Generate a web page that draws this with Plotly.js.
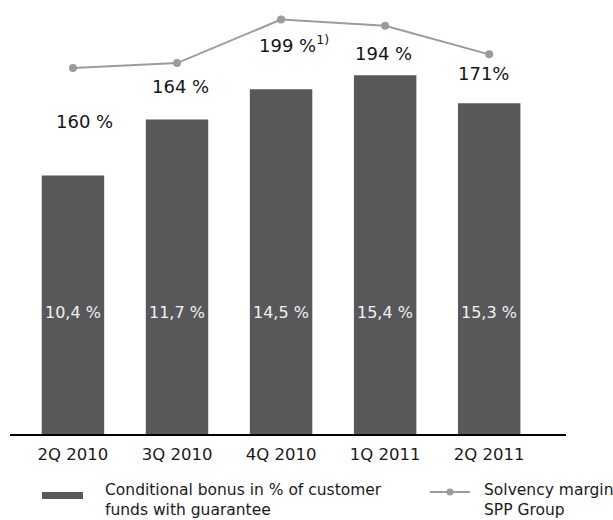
<!DOCTYPE html>
<html>
<head>
<meta charset="utf-8">
<script src="https://cdn.plot.ly/plotly-3.0.1.min.js"></script>
<style>
  html, body { margin: 0; padding: 0; background: #fff; }
  #chart { width: 613px; height: 520px; }
</style>
</head>
<body>
<div id="chart"></div>
<script>
// ---- data ----
const quarters = ['2Q 2010', '3Q 2010', '4Q 2010', '1Q 2011', '2Q 2011'];
// Conditional bonus in % of customer funds with guarantee (printed labels)
const bonusPct = [10.4, 11.7, 14.5, 15.4, 15.3];
// The reference bars are not drawn to scale; heights as drawn, read on the 1Q 2011 bar's scale
const bonusBarDrawn = [11.1, 13.5, 14.8, 15.4, 14.2];
// Solvency margin SPP Group, %
const solvency = [160, 164, 199, 194, 171];
const solvencySep = [' ', ' ', ' ', ' ', ''];
const solvencyNote = ['', '', '1)', '', ''];
const legendBar = 'Conditional bonus in % of customer<br>funds with guarantee';
const legendLine = 'Solvency margin<br>SPP Group';

// ---- styling / layout ----
const FONT = 'DejaVu Sans, Verdana, sans-serif';
const BAR_COLOR = '#58585a';
const LINE_COLOR = '#9b9b9b';
const W = 613, H = 520, L = 10, R = 47, T = 10, B = 86;
const PW = W - L - R, PH = H - T - B;
const px2x = p => (p - L) / PW;          // pixel -> paper x
const px2y = p => (H - B - p) / PH;      // pixel -> paper y

// label offsets (pixels) relative to each line point
const lineLabelDx = [12, 3.5, 12.5, -2, -5.5];
const lineLabelDy = [-53, -23, -25, -28, -19];

const bars = {
  type: 'bar',
  x: quarters,
  y: bonusBarDrawn,
  width: 0.6,
  marker: { color: BAR_COLOR, line: { width: 0 } },
  hoverinfo: 'skip',
  showlegend: false
};

const line = {
  type: 'scatter',
  mode: 'lines+markers',
  x: quarters,
  y: solvency,
  yaxis: 'y2',
  line: { color: LINE_COLOR, width: 2 },
  marker: { color: LINE_COLOR, size: 8 },
  hoverinfo: 'skip',
  showlegend: false
};

const annotations = [];
quarters.forEach((q, i) => {
  annotations.push({
    xref: 'x', yref: 'paper', x: q, y: px2y(312.5),
    text: bonusPct[i].toFixed(1).replace('.', ',') + ' %',
    showarrow: false, xanchor: 'center', yanchor: 'middle',
    font: { family: FONT, size: 16, color: '#f2f2f2' }
  });
  annotations.push({
    xref: 'x', yref: 'y2', x: q, y: solvency[i],
    text: solvency[i] + solvencySep[i] + '%' + (solvencyNote[i] ? '<sup>' + solvencyNote[i] + '</sup>' : ''),
    showarrow: false, xanchor: 'center', yanchor: 'middle',
    xshift: lineLabelDx[i], yshift: lineLabelDy[i],
    font: { family: FONT, size: 18, color: '#151515' }
  });
});
// legend texts
annotations.push({
  xref: 'paper', yref: 'paper', x: px2x(103), y: px2y(479),
  text: legendBar, showarrow: false, xanchor: 'left', yanchor: 'top', align: 'left',
  font: { family: FONT, size: 15.5, color: '#1a1a1a' }
});
annotations.push({
  xref: 'paper', yref: 'paper', x: px2x(482), y: px2y(479),
  text: legendLine, showarrow: false, xanchor: 'left', yanchor: 'top', align: 'left',
  font: { family: FONT, size: 15.5, color: '#1a1a1a' }
});

const shapes = [
  // legend swatch for bars
  { type: 'rect', xref: 'paper', yref: 'paper',
    x0: px2x(42), x1: px2x(83), y0: px2y(492), y1: px2y(499),
    fillcolor: BAR_COLOR, line: { width: 0 } },
  // legend symbol for line
  { type: 'line', xref: 'paper', yref: 'paper',
    x0: px2x(430), x1: px2x(470), y0: px2y(492), y1: px2y(492),
    line: { color: LINE_COLOR, width: 2 } },
  { type: 'circle', xref: 'paper', yref: 'paper',
    x0: px2x(446.5), x1: px2x(453.5), y0: px2y(488.5), y1: px2y(495.5),
    fillcolor: LINE_COLOR, line: { width: 0 } }
];

const layout = {
  width: W, height: H,
  margin: { l: L, r: R, t: T, b: B, pad: 0 },
  paper_bgcolor: '#ffffff', plot_bgcolor: '#ffffff',
  font: { family: FONT, color: '#1a1a1a' },
  showlegend: false,
  xaxis: {
    type: 'category',
    range: [-0.605, 4.738],
    showline: true, linecolor: '#000000', linewidth: 1.5,
    showgrid: false, zeroline: false, ticks: '',
    ticklabelstandoff: 5,
    tickfont: { family: FONT, size: 16.5, color: '#1a1a1a' },
    fixedrange: true
  },
  yaxis: {
    range: [0, 18.2], visible: false, showgrid: false, zeroline: false, fixedrange: true
  },
  yaxis2: {
    range: [-133.7, 206.6], overlaying: 'y', visible: false,
    showgrid: false, zeroline: false, fixedrange: true
  },
  bargap: 0.4,
  annotations: annotations,
  shapes: shapes
};

Plotly.newPlot('chart', [bars, line], layout, { displayModeBar: false, staticPlot: true });
</script>
</body>
</html>
